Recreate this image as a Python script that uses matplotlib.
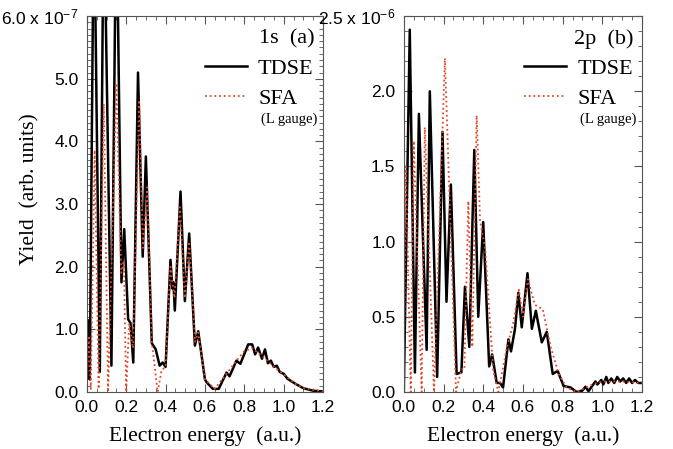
import matplotlib
matplotlib.use("Agg")
import matplotlib.pyplot as plt
from matplotlib.ticker import MultipleLocator, FuncFormatter
from matplotlib.lines import Line2D

plt.rcParams['font.family'] = ['Liberation Sans', 'DejaVu Sans']
plt.rcParams['mathtext.default'] = 'regular'

# 1s panel, yield in units of 1e-7
s1_tdse_x = [0.0, 0.005, 0.015, 0.036, 0.066, 0.086, 0.125, 0.15, 0.176, 0.19,
             0.21, 0.222, 0.236, 0.26, 0.284, 0.30, 0.33, 0.35, 0.37, 0.385,
             0.40, 0.425, 0.435, 0.44, 0.447, 0.476, 0.498, 0.52, 0.549, 0.566,
             0.60, 0.61, 0.64, 0.67, 0.71, 0.725, 0.76, 0.78, 0.82, 0.84,
             0.855, 0.87, 0.89, 0.905, 0.92, 0.935, 0.95, 0.965, 0.98, 1.0,
             1.02, 1.06, 1.1, 1.15, 1.2]
s1_tdse_y = [0.34, 1.15, 0.2, 8.0, 0.32, 8.0, 0.42, 8.0, 1.75, 2.6,
             1.16, 1.1, 0.47, 5.1, 2.16, 3.76, 0.78, 0.68, 0.42, 0.47,
             0.40, 2.11, 1.65, 1.75, 1.3, 3.2, 1.45, 2.53, 0.74, 0.97,
             0.2, 0.15, 0.05, 0.05, 0.31, 0.25, 0.5, 0.45, 0.76, 0.76,
             0.6, 0.71, 0.53, 0.68, 0.46, 0.5, 0.4, 0.42, 0.32, 0.29,
             0.21, 0.13, 0.06, 0.02, 0.01]
s1_sfa_x = [0.0, 0.01, 0.02, 0.04, 0.06, 0.086, 0.108, 0.15, 0.175, 0.188,
            0.2, 0.215, 0.235, 0.266, 0.285, 0.307, 0.33, 0.36, 0.38, 0.40,
            0.425, 0.445, 0.473, 0.498, 0.52, 0.55, 0.566, 0.60, 0.65, 0.70,
            0.76, 0.80, 0.84, 0.90, 0.95, 1.0, 1.06, 1.1, 1.2]
s1_sfa_y = [0.1, 0.9, 0.05, 3.86, 0.05, 4.6, 0.0, 4.93, 1.9, 2.1,
            0.0, 1.1, 0.7, 4.66, 2.3, 3.27, 0.8, 0.0, 0.35, 0.4,
            2.0, 1.5, 2.95, 1.5, 2.4, 0.8, 0.95, 0.2, 0.05, 0.25,
            0.5, 0.65, 0.7, 0.55, 0.4, 0.28, 0.13, 0.06, 0.01]

# 2p panel, yield in units of 1e-6
p2_tdse_x = [0.0, 0.03, 0.056, 0.076, 0.115, 0.131, 0.168, 0.195, 0.215, 0.237,
             0.266, 0.29, 0.308, 0.33, 0.355, 0.375, 0.40, 0.43, 0.445, 0.468,
             0.485, 0.50, 0.527, 0.54, 0.56, 0.577, 0.594, 0.623, 0.645, 0.665,
             0.695, 0.72, 0.75, 0.775, 0.805, 0.84, 0.87, 0.9, 0.915, 0.93,
             0.965, 0.975, 0.995, 1.005, 1.02, 1.03, 1.045, 1.06, 1.075, 1.09,
             1.105, 1.12, 1.135, 1.15, 1.165, 1.18, 1.2]
p2_tdse_y = [0.0, 2.41, 0.13, 1.85, 0.28, 2.0, 0.1, 1.73, 0.6, 1.38,
             0.12, 0.13, 0.70, 0.3, 1.61, 0.5, 1.13, 0.17, 0.25, 0.06,
             0.06, 0.03, 0.35, 0.27, 0.42, 0.66, 0.43, 0.79, 0.42, 0.54,
             0.33, 0.4, 0.12, 0.14, 0.04, 0.03, 0.0, 0.01, 0.035, 0.005,
             0.07, 0.05, 0.08, 0.05, 0.1, 0.06, 0.09, 0.06, 0.1, 0.07,
             0.09, 0.06, 0.09, 0.06, 0.08, 0.06, 0.06]
p2_sfa_x = [0.0, 0.01, 0.035, 0.05, 0.09, 0.106, 0.152, 0.207, 0.263, 0.29,
            0.305, 0.325, 0.345, 0.367, 0.384, 0.41, 0.45, 0.476, 0.52, 0.55,
            0.58, 0.60, 0.625, 0.66, 0.7, 0.74, 0.78, 0.82, 0.87, 0.95,
            1.0, 1.1, 1.2]
p2_sfa_y = [0.0, 1.5, 0.0, 1.67, 0.0, 1.76, 0.0, 2.22, 0.0, 0.15,
            0.15, 1.27, 0.3, 1.84, 1.14, 0.95, 0.15, 0.0, 0.3, 0.45,
            0.68, 0.5, 0.75, 0.58, 0.55, 0.3, 0.12, 0.03, 0.0, 0.05,
            0.07, 0.07, 0.06]

serif = ['Liberation Serif', 'DejaVu Serif']
red = '#e0482a'
frame = '#555555'
dots = (0, (1, 1.6))


def top_label(top, exp, fmt):
    def f(v, pos):
        if abs(v - top) < 1e-9:
            return fmt.format(v) + ' x 10$^{' + exp + '}$'
        return fmt.format(v)
    return FuncFormatter(f)


def setup(ax, ymax, major, minor, exp, tag):
    ax.set_xlim(0, 1.2)
    ax.set_ylim(0, ymax)
    ax.xaxis.set_major_locator(MultipleLocator(0.2))
    ax.xaxis.set_minor_locator(MultipleLocator(0.05))
    ax.yaxis.set_major_locator(MultipleLocator(major))
    ax.yaxis.set_minor_locator(MultipleLocator(minor))
    ax.xaxis.set_major_formatter(FuncFormatter(lambda v, p: '{:.1f}'.format(v)))
    ax.yaxis.set_major_formatter(top_label(ymax, exp, '{:.1f}'))
    ax.tick_params(which='both', direction='in', top=True, right=True,
                   colors=frame, labelcolor='black', labelsize=12.5)
    ax.tick_params(which='major', length=6, width=0.8)
    ax.tick_params(which='minor', length=3, width=0.6)
    ax.tick_params(axis='x', pad=6)
    ax.tick_params(axis='y', pad=6)
    for s in ax.spines.values():
        s.set_color(frame)
    ax.set_xlabel('Electron energy  (a.u.)', family=serif, fontsize=15.5,
                  labelpad=8)
    handles = [Line2D([], [], color='black', lw=1.8),
               Line2D([], [], color=red, lw=1.3, ls=dots)]
    ax.legend(handles, ['TDSE', 'SFA'], loc='upper right',
              bbox_to_anchor=(1.045, 0.94), frameon=False, handlelength=1.9,
              handletextpad=0.5, labelspacing=0.4,
              prop={'family': serif, 'size': 16})
    ax.text(0.965, 0.965, tag, transform=ax.transAxes, ha='right', va='top',
            family=serif, fontsize=16)
    ax.text(0.975, 0.725, '(L gauge)', transform=ax.transAxes, ha='right',
            va='center', family=serif, fontsize=10.5)


fig = plt.figure(figsize=(6.73, 4.49), dpi=100)
ax1 = fig.add_axes([0.129, 0.127, 0.351, 0.837])
ax2 = fig.add_axes([0.600, 0.127, 0.354, 0.837])

ax1.plot(s1_tdse_x, s1_tdse_y, color='black', lw=1.8)
ax1.plot(s1_sfa_x, s1_sfa_y, color=red, lw=1.3, ls=dots)
setup(ax1, 6.0, 1.0, 0.1, '-7', '1s  (a)')
ax1.set_ylabel('Yield  (arb. units)', family=serif, fontsize=15.5)
ax1.yaxis.set_label_coords(-0.2, 0.54)

ax2.plot(p2_tdse_x, p2_tdse_y, color='black', lw=1.8)
ax2.plot(p2_sfa_x, p2_sfa_y, color=red, lw=1.3, ls=dots)
setup(ax2, 2.5, 0.5, 0.1, '-6', '2p  (b)')

fig.savefig('out.png', dpi=100)
